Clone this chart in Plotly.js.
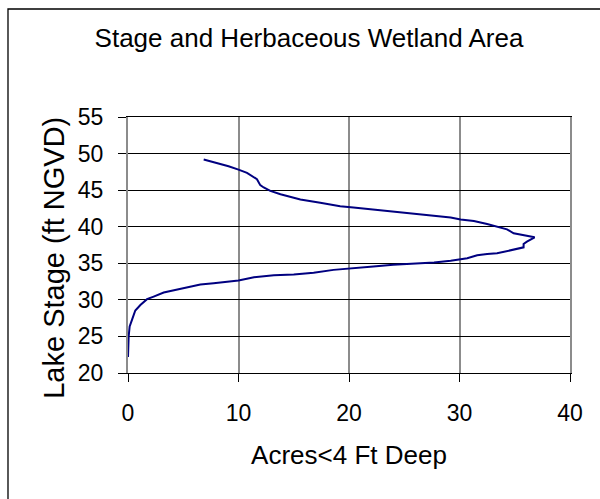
<!DOCTYPE html>
<html>
<head>
<meta charset="utf-8">
<script src="https://cdn.plot.ly/plotly-3.0.1.min.js"></script>
<style>
  html, body { margin: 0; padding: 0; background: #fff; }
  #chart { width: 600px; height: 499px; }
</style>
</head>
<body>
<div id="chart"></div>
<script>
// Acres less than 4 ft deep (x) vs lake stage in ft NGVD (y)
const acres = [6.85, 7.6, 8.36, 9.1, 10.0, 10.77, 11.67, 11.97, 12.28, 12.88, 13.8, 14.69, 15.6, 17.4, 19.2, 20.4, 21.6, 23.4, 25.85, 27.7, 29.2, 30.1, 31.3, 32.5, 33.4, 34.3, 34.9, 35.8, 36.8, 36.1, 35.8, 35.8, 34.4, 33.4, 32.5, 31.6, 30.7, 30.1, 29.2, 27.7, 25.85, 24.0, 22.2, 20.1, 18.6, 16.8, 15.0, 13.2, 11.4, 10.0, 9.0, 7.75, 6.55, 5.34, 4.13, 3.23, 2.32, 1.72, 1.12, 0.66, 0.36, 0.15, 0.06, 0.03, 0.0];
const stage = [49.18, 48.86, 48.64, 48.27, 47.8, 47.36, 46.5, 45.68, 45.36, 44.9, 44.45, 44.1, 43.73, 43.27, 42.8, 42.64, 42.45, 42.18, 41.8, 41.5, 41.27, 41.0, 40.77, 40.36, 40.0, 39.64, 39.1, 38.86, 38.55, 37.95, 37.64, 37.18, 36.7, 36.36, 36.27, 36.1, 35.7, 35.55, 35.36, 35.1, 35.0, 34.8, 34.55, 34.27, 34.1, 33.7, 33.45, 33.36, 33.1, 32.64, 32.45, 32.27, 32.1, 31.73, 31.36, 31.0, 30.45, 30.1, 29.3, 28.55, 27.27, 26.36, 25.0, 23.6, 22.2];

const chartTitle = "Stage and Herbaceous Wetland Area";
const xTitle = "Acres<4 Ft Deep";
const yTitle = "Lake Stage (ft NGVD)";
const xTickVals = [0, 10, 20, 30, 40];
const yTickVals = [20, 25, 30, 35, 40, 45, 50, 55];

const font = "Liberation Sans, Arial, sans-serif";

const trace = {
  x: acres,
  y: stage,
  type: "scatter",
  mode: "lines",
  line: { color: "#000080", width: 2 },
  hoverinfo: "x+y",
  showlegend: false
};

const layout = {
  width: 600,
  height: 499,
  margin: { l: 128, r: 30, t: 117, b: 126, pad: 0 },
  paper_bgcolor: "#ffffff",
  plot_bgcolor: "#ffffff",
  font: { family: font, color: "#000", size: 23 },
  title: {
    text: chartTitle,
    font: { family: font, size: 26, color: "#000" },
    x: 0.515, xref: "container", xanchor: "center",
    y: 0.924, yref: "container", yanchor: "middle"
  },
  xaxis: {
    range: [0, 40],
    tickvals: xTickVals,
    ticktext: xTickVals.map(String),
    showgrid: true,
    gridcolor: "#8c8c8c",
    gridwidth: 2,
    zeroline: false,
    showline: true,
    linecolor: "#000",
    linewidth: 1,
    mirror: true,
    ticks: "outside",
    ticklen: 8,
    tickcolor: "#000",
    tickwidth: 1,
    ticklabelstandoff: 11,
    tickfont: { family: font, size: 23, color: "#000" },
    automargin: false,
    title: { text: xTitle, font: { family: font, size: 26, color: "#000" }, standoff: 21 }
  },
  yaxis: {
    range: [20, 55],
    tickvals: yTickVals,
    ticktext: yTickVals.map(String),
    showgrid: true,
    gridcolor: "#000",
    gridwidth: 1,
    zeroline: false,
    showline: true,
    linecolor: "#8c8c8c",
    linewidth: 2,
    mirror: true,
    ticks: "outside",
    ticklen: 8,
    tickcolor: "#000",
    tickwidth: 1,
    ticklabelstandoff: 10,
    tickfont: { family: font, size: 23, color: "#000" },
    automargin: false,
    title: { text: "" }
  },
  annotations: [{
    text: yTitle,
    xref: "paper", yref: "paper",
    x: -0.1674, y: 0.45,
    xanchor: "center", yanchor: "middle",
    textangle: -90,
    showarrow: false,
    font: { family: font, size: 29, color: "#000" }
  }],
  shapes: [{
    type: "rect",
    xref: "paper", yref: "paper",
    x0: -0.2715, x1: 1.0905, y0: -0.535, y1: 1.4219,
    line: { color: "#000", width: 1.3 },
    fillcolor: "rgba(0,0,0,0)",
    layer: "above"
  }]
};

Plotly.newPlot("chart", [trace], layout, { staticPlot: true, displayModeBar: false });
</script>
</body>
</html>
